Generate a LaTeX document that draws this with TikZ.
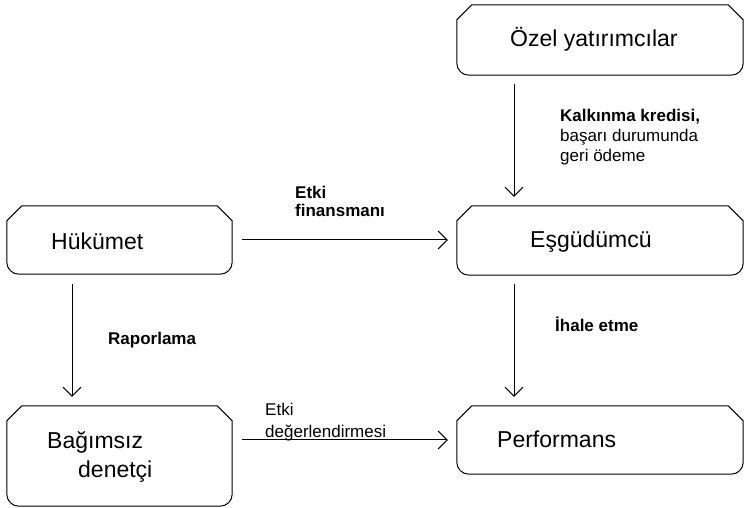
\documentclass[tikz,border=0pt]{standalone}
\usepackage{fontspec}
\setmainfont{Liberation Sans}
\usetikzlibrary{arrows.meta}
\newcommand\chambox[1]{\draw[boxline] ([yshift=-15pt]#1.north west) -- ([xshift=15pt]#1.north west) -- ([xshift=-15pt]#1.north east) -- ([yshift=-15pt]#1.north east) -- ([yshift=12pt]#1.south east) arc[start angle=0,end angle=-90,radius=12pt] -- ([xshift=12pt]#1.south west) arc[start angle=270,end angle=180,radius=12pt] -- cycle;}
\begin{document}
\begin{tikzpicture}[x=1pt,y=1pt,
  boxline/.style={line width=1pt,draw=black},
  frame/.style={rectangle,inner sep=0pt,draw=none},
  main/.style={anchor=base west,inner sep=0pt,font=\fontsize{23}{27}\selectfont},
  lab/.style={anchor=base west,inner sep=0pt,font=\fontsize{17}{20}\selectfont},
  blab/.style={lab,font=\fontsize{17}{20}\selectfont\bfseries},
  arr/.style={line width=1pt,-{Straight Barb[length=9pt,width=18pt]},shorten <=9pt,shorten >=9pt}]
\useasboundingbox (0,0) rectangle (745,508);
% boxes
\node[frame,minimum width=225pt,minimum height=68pt] (huk) at (119.5,268) {};
\node[frame,minimum width=286pt,minimum height=70pt] (ozel) at (600,468) {};
\node[frame,minimum width=286pt,minimum height=69pt] (esg) at (600,267.5) {};
\node[frame,minimum width=286pt,minimum height=68pt] (perf) at (600,68) {};
\node[frame,minimum width=225pt,minimum height=100pt] (bag) at (119.5,52) {};
\chambox{huk}
\chambox{ozel}
\chambox{esg}
\chambox{perf}
\chambox{bag}
% texts
\node[main] (thuk) at (51,258) {Hükümet};
\node[main] (tozel) at (510,461) {Özel yatırımcılar};
\node[main] (tesg) at (530,260) {Eşgüdümcü};
\node[main] (tperf) at (497,60) {Performans};
\node[main] (tbag1) at (47,59) {Bağımsız};
\node[main] (tbag2) at (78,30) {denetçi};
% labels
\node[blab] (l1a) at (560,386) {Kalkınma kredisi,};
\node[lab] (l1b) at (560,366) {başarı durumunda};
\node[lab] (l1c) at (560,346) {geri ödeme};
\node[blab] (l2a) at (295,309) {Etki};
\node[blab] (l2b) at (295,291) {finansmanı};
\node[blab] (l3) at (108,163) {Raporlama};
\node[blab] (l4) at (555,176) {İhale etme};
\node[lab] (l5a) at (265,92) {Etki};
\node[lab] (l5b) at (265,70) {değerlendirmesi};
% arrows
\coordinate (oa) at ([xshift=-86pt]ozel.south);
\coordinate (ea) at ([xshift=-86pt]esg.north);
\coordinate (eb) at ([xshift=-86pt]esg.south);
\coordinate (pa) at ([xshift=-86pt]perf.north);
\coordinate (ha) at ([xshift=-47.5pt]huk.south);
\coordinate (ba) at ([xshift=-47.5pt]bag.north);
\draw[arr] (oa) -- (ea);
\draw[arr] (eb) -- (pa);
\draw[arr,shorten <=10pt] (ha) -- (ba);
\draw[arr,shorten <=10pt] (huk.east) -- (huk.east -| esg.west);
\draw[arr,shorten <=10pt] (bag.east |- perf.west) -- (perf.west);
\end{tikzpicture}
\end{document}
